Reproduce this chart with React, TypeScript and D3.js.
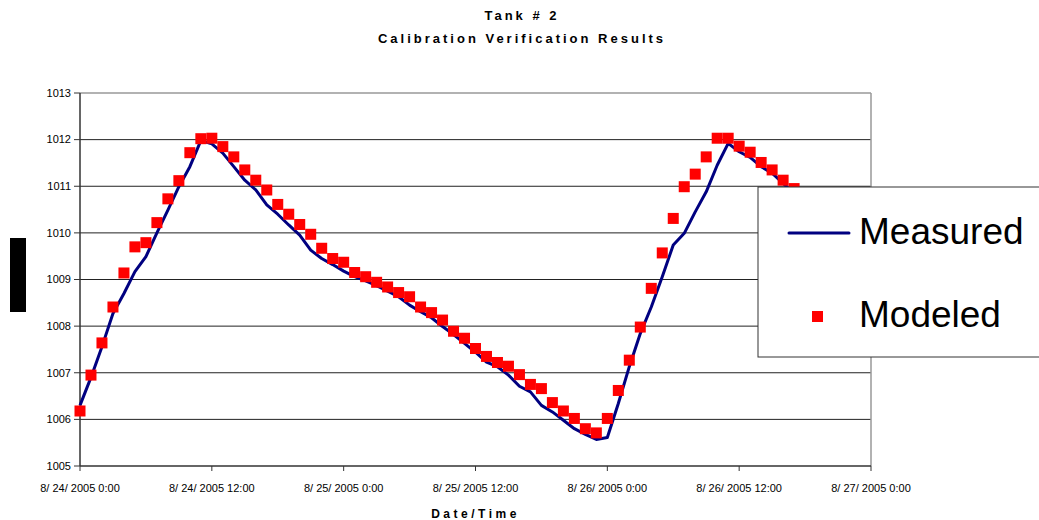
import React from "react";
import * as d3 from "d3";

// hourly readings starting 8/24/2005 0:00
const measured = [
  1006.3, 1006.9, 1007.56, 1008.27, 1008.7, 1009.17, 1009.49, 1010.0, 1010.49, 1010.99,
  1011.42, 1011.98, 1011.91, 1011.71, 1011.42, 1011.13, 1010.92, 1010.6, 1010.4, 1010.17,
  1009.95, 1009.63, 1009.45, 1009.32, 1009.18, 1009.06, 1008.97, 1008.87, 1008.75, 1008.63,
  1008.45, 1008.31, 1008.18, 1007.99, 1007.82, 1007.63, 1007.44, 1007.23, 1007.13, 1006.95,
  1006.71, 1006.59, 1006.3, 1006.16, 1005.98, 1005.8, 1005.68, 1005.57, 1005.61, 1006.34,
  1007.13, 1007.84, 1008.41, 1009.06, 1009.74, 1009.99, 1010.45, 1010.88, 1011.45, 1011.92,
  1011.74, 1011.62, 1011.42, 1011.28, 1011.06, 1010.85,
];

const modeled = [
  1006.18, 1006.95, 1007.64, 1008.41, 1009.14, 1009.7, 1009.79, 1010.22, 1010.73, 1011.12,
  1011.72, 1012.02, 1012.03, 1011.85, 1011.63, 1011.35, 1011.13, 1010.92, 1010.61, 1010.4,
  1010.18, 1009.97, 1009.67, 1009.45, 1009.37, 1009.15, 1009.06, 1008.94, 1008.84, 1008.72,
  1008.63, 1008.41, 1008.29, 1008.13, 1007.89, 1007.74, 1007.52, 1007.35, 1007.22, 1007.14,
  1006.96, 1006.75, 1006.66, 1006.36, 1006.18, 1006.02, 1005.8, 1005.71, 1006.02, 1006.62,
  1007.27, 1007.98, 1008.81, 1009.57, 1010.31, 1010.99, 1011.26, 1011.63, 1012.03, 1012.03,
  1011.86, 1011.73, 1011.51, 1011.35, 1011.13, 1010.95,
];

const yTicks = [1005, 1006, 1007, 1008, 1009, 1010, 1011, 1012, 1013];
const xTickLabels = [
  "8/ 24/ 2005 0:00",
  "8/ 24/ 2005 12:00",
  "8/ 25/ 2005 0:00",
  "8/ 25/ 2005 12:00",
  "8/ 26/ 2005 0:00",
  "8/ 26/ 2005 12:00",
  "8/ 27/ 2005 0:00",
];

const start = new Date(2005, 7, 24, 0, 0);
const end = new Date(2005, 7, 27, 0, 0);

export default function App() {
  const width = 1039;
  const height = 520;
  const margin = { top: 93, right: 168, bottom: 54, left: 80 };

  const x = d3.scaleTime().domain([start, end]).range([margin.left, width - margin.right]);
  const y = d3.scaleLinear().domain([1005, 1013]).range([height - margin.bottom, margin.top]);

  const hour = (i: number) => d3.timeHour.offset(start, i);
  const line = d3
    .line<number>()
    .x((d, i) => x(hour(i)))
    .y((d) => y(d));

  const xTicks = d3.timeHour.every(12)!.range(start, d3.timeHour.offset(end, 1));
  const x0 = margin.left;
  const x1 = width - margin.right;
  const yb = y(1005);
  const bold = { fontWeight: "bold", letterSpacing: "3px" } as React.CSSProperties;
  const sq = 11;

  return (
    <svg
      width={width}
      height={height}
      style={{ position: "absolute", left: 0, top: 0, display: "block", background: "#fff" }}
      fontFamily="'Liberation Sans', Arial, sans-serif"
    >
      <text x={522} y={20} textAnchor="middle" fontSize={13} style={bold}>
        Tank # 2
      </text>
      <text x={522} y={43} textAnchor="middle" fontSize={13} style={bold}>
        Calibration Verification Results
      </text>

      {/* grid */}
      {yTicks.slice(1, -1).map((t) => (
        <line key={t} x1={x0} x2={x1} y1={y(t)} y2={y(t)} stroke="#222" strokeWidth={1} />
      ))}
      <line x1={x0} x2={x1} y1={y(1013)} y2={y(1013)} stroke="#999" strokeWidth={1.5} />
      <line x1={x1} x2={x1} y1={y(1013)} y2={yb} stroke="#999" strokeWidth={1.5} />

      {/* y axis */}
      <line x1={x0} x2={x0} y1={y(1013)} y2={yb} stroke="#333" strokeWidth={1.5} />
      {yTicks.map((t) => (
        <g key={t}>
          <line x1={x0 - 6} x2={x0} y1={y(t)} y2={y(t)} stroke="#333" strokeWidth={1} />
          <text x={71} y={y(t)} dy="0.35em" textAnchor="end" fontSize={11}>
            {t}
          </text>
        </g>
      ))}
      <rect x={10} y={238} width={16} height={74} fill="#000" />

      {/* x axis */}
      <line x1={x0} x2={x1} y1={yb} y2={yb} stroke="#333" strokeWidth={1.5} />
      {xTicks.map((t, i) => (
        <g key={i}>
          <line x1={x(t)} x2={x(t)} y1={yb} y2={yb + 5} stroke="#333" strokeWidth={1} />
          <text x={x(t)} y={492} textAnchor="middle" fontSize={11}>
            {xTickLabels[i]}
          </text>
        </g>
      ))}
      <text x={(x0 + x1) / 2} y={518} textAnchor="middle" fontSize={12} style={{ fontWeight: "bold", letterSpacing: "3.5px" }}>
        Date/Time
      </text>

      {/* series */}
      <path d={line(measured) || ""} fill="none" stroke="#000080" strokeWidth={3} strokeLinejoin="round" />
      {modeled.map((v, i) => (
        <rect key={i} x={x(hour(i)) - sq / 2} y={y(v) - sq / 2} width={sq} height={sq} fill="#ff0000" />
      ))}

      {/* legend */}
      <rect x={758} y={187} width={300} height={170} fill="#fff" stroke="#333" strokeWidth={1} />
      <line x1={789} x2={849} y1={233} y2={233} stroke="#000080" strokeWidth={3} strokeLinecap="round" />
      <text x={859} y={244} fontSize={37}>
        Measured
      </text>
      <rect x={812} y={311} width={11} height={11} fill="#ff0000" />
      <text x={859} y={327} fontSize={37}>
        Modeled
      </text>
    </svg>
  );
}
